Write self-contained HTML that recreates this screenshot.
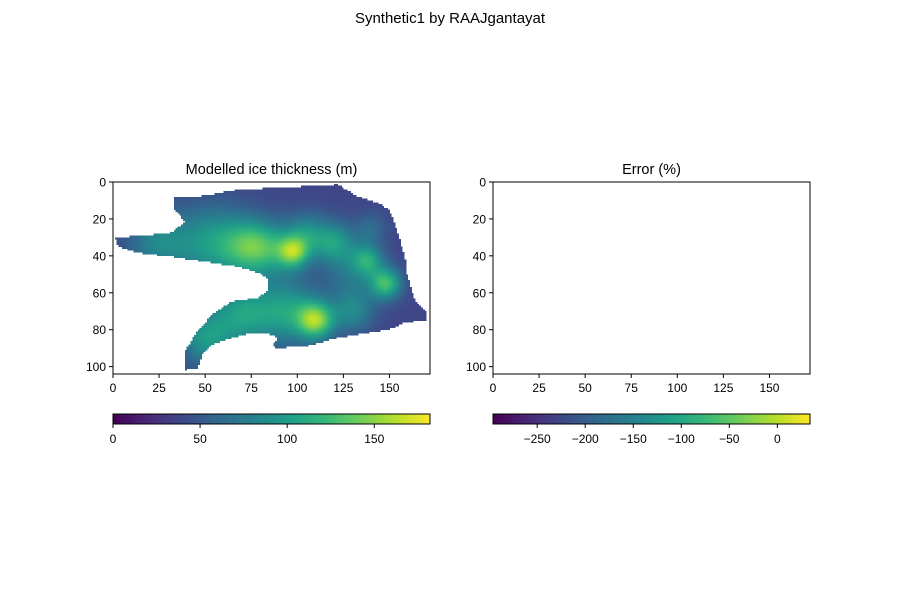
<!DOCTYPE html>
<html><head><meta charset="utf-8"><style>
body{margin:0;background:#fff;}
svg{display:block;font-family:"Liberation Sans","DejaVu Sans",sans-serif;}
</style></head><body>
<svg id="fig" width="900" height="600" viewBox="0 0 900 600">
<rect width="900" height="600" fill="#fff"/>
<text x="450" y="23" text-anchor="middle" font-size="15">Synthetic1 by RAAJgantayat</text>
<g id="left"></g>
<g id="right"></g>
</svg>
<script>
// outline of glacier (data coords: column, row)
const outlineX=[32.6,50.9,67.8,104.2,122.1,125.9,133.0,146.0,150.3,154.6,158.4,159.5,163.9,170.4,170.4,158.4,149.2,122.1,104.2,89.5,86.3,89.5,86.3,77.0,64.6,53.7,48.3,46.1,39.1,39.1,44.5,53.7,64.6,78.7,83.6,83.6,78.7,67.8,49.9,32.0,13.6,2.7,1.1,22.8,32.0,39.1,32.6];
const outlineY=[8.4,7.3,4.1,2.4,1.4,4.1,7.9,12.2,16.0,28.4,40.9,50.1,64.7,70.7,74.5,76.1,79.9,84.2,89.1,89.7,89.1,84.2,82.6,81.5,84.2,88.0,93.4,100.5,101.6,91.8,82.6,71.8,64.7,62.6,59.3,51.7,49.0,45.8,43.1,40.4,38.2,34.9,30.1,28.4,27.4,21.4,13.8];
// thickness hotspots
const hotX=[75,98,55,25,120,105,138,148,130,110,95,70,50,130,88,140];
const hotY=[35,38,33,33,33,28,42,55,50,75,70,72,85,70,36,25];
const hotA=[70,85,60,45,60,45,60,85,30,100,60,60,55,45,40,25];
const hotS=[10,6,14,12,8,8,6,6,10,7,12,12,10,8,10,6];
const baseThick=38;
const xTicks=[0,25,50,75,100,125,150];
const yTicks=[0,20,40,60,80,100];
const cbTicksL=[0,50,100,150];
const cbTicksR=[-250,-200,-150,-100,-50,0];
const NX=172, NY=104, VMAXL=182, RMIN=-296, RMAX=34;

const NS="http://www.w3.org/2000/svg";
function el(t,a,p){const e=document.createElementNS(NS,t);for(const k in a)e.setAttribute(k,a[k]);p.appendChild(e);return e;}
const vir=[[68,1,84],[72,40,120],[62,74,137],[49,104,142],[38,130,142],[31,158,137],[53,183,121],[109,205,89],[180,222,44],[253,231,37]];
function viridis(t){t=Math.max(0,Math.min(1,t))*9;const i=Math.min(8,Math.floor(t)),f=t-i;const a=vir[i],b=vir[i+1];
return`rgb(${Math.round(a[0]+(b[0]-a[0])*f)},${Math.round(a[1]+(b[1]-a[1])*f)},${Math.round(a[2]+(b[2]-a[2])*f)})`;}
function inside(x,y){let c=false;for(let i=0,j=outlineX.length-1;i<outlineX.length;j=i++){
 const xi=outlineX[i],yi=outlineY[i],xj=outlineX[j],yj=outlineY[j];
 if(((yi>y)!=(yj>y))&&(x<(xj-xi)*(y-yi)/(yj-yi)+xi))c=!c;}return c;}

function panel(g,x0,title,img,cbTicks,cmin,cmax){
 const W=317,H=192,y0=182;
 const sx=v=>x0+v*W/NX, sy=v=>y0+v*H/NY;
 const t=el('text',{x:x0+W/2,y:174,'text-anchor':'middle','font-size':14.5},g);t.textContent=title;
 
 
 if(img){
  const ig=el('g',{'shape-rendering':'crispEdges'},g);
  
  
  for(let r=0;r<NY;r++)for(let c=0;c<NX;c++){
   const x=c+0.5,y=r+0.5; if(!inside(x,y))continue;
   let v=baseThick;for(let k=0;k<hotX.length;k++){const d2=(x-hotX[k])**2+(y-hotY[k])**2;v+=hotA[k]*Math.exp(-d2/(2*hotS[k]*hotS[k]));}
   el('rect',{x:sx(c),y:sy(r),width:W/NX+0.3,height:H/NY+0.3,fill:viridis(v/VMAXL)},ig);
  }
 }
 const fr=el('rect',{x:x0,y:y0,width:W,height:H,fill:'none',stroke:'#000','stroke-width':1},g);
 
 
 xTicks.forEach(v=>{const x=sx(v);el('line',{x1:x,x2:x,y1:y0+H,y2:y0+H+4,stroke:'#000'},g);
  const tt=el('text',{x:x,y:y0+H+18,'text-anchor':'middle','font-size':12},g);tt.textContent=v;
  
  });
 yTicks.forEach(v=>{const y=sy(v);el('line',{x1:x0-4,x2:x0,y1:y,y2:y,stroke:'#000'},g);
  const tt=el('text',{x:x0-7,y:y+4.5,'text-anchor':'end','font-size':12},g);tt.textContent=v;
  
  });
 const cb=el('g',{},g);
 
 
 const N=120;for(let i=0;i<N;i++)el('rect',{x:x0+i*W/N,y:414,width:W/N+0.5,height:10,fill:viridis((i+0.5)/N)},cb);
 el('rect',{x:x0,y:414,width:W,height:10,fill:'none',stroke:'#000','stroke-width':1},cb);
 cbTicks.forEach(v=>{const x=x0+(v-cmin)/(cmax-cmin)*W;el('line',{x1:x,x2:x,y1:424,y2:428,stroke:'#000'},cb);
  const tt=el('text',{x:x,y:443,'text-anchor':'middle','font-size':12},cb);tt.textContent=(v<0?'\u2212'+(-v):v);
  
  });
}
panel(document.getElementById('left'),113,'Modelled ice thickness (m)',true,cbTicksL,0,VMAXL);
panel(document.getElementById('right'),493,'Error (%)',false,cbTicksR,RMIN,RMAX);
</script>
</body></html>
